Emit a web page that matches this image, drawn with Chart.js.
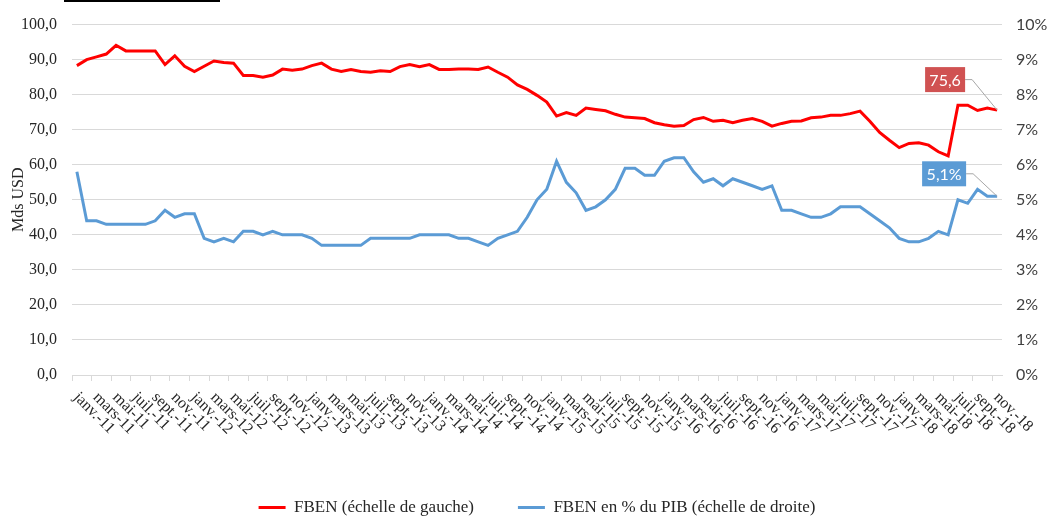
<!DOCTYPE html>
<html><head><meta charset="utf-8">
<script src="https://cdn.jsdelivr.net/npm/chart.js@4/dist/chart.umd.min.js"></script>
<style>
html,body{margin:0;padding:0;background:#fff;}
#wrap{position:relative;width:1048px;height:517px;}
#bar{position:absolute;left:64px;top:0;width:156px;height:2px;background:#000;}
canvas{position:absolute;left:0;top:0;}
</style></head><body>
<div id="wrap"><canvas id="c" width="1048" height="517"></canvas><div id="bar"></div></div>
<script>
const monthNames = ['janv.','févr.','mars','avr.','mai','juin','juil.','août','sept.','oct.','nov.','déc.'];
const years = ['11','12','13','14','15','16','17','18'];
const lastMonthCount = 95; // janv.-11 .. nov.-18
const categories = [];
years.forEach(y => monthNames.forEach(m => categories.push(m + '-' + y)));
categories.length = lastMonthCount;

const fbenMds = [
 88.3, 90.0, 90.8, 91.6, 94.1, 92.5, 92.5, 92.5, 92.5, 88.6, 91.1, 88.1,
 86.6, 88.1, 89.6, 89.2, 89.0, 85.5, 85.5, 85.0, 85.6, 87.3, 87.0, 87.3,
 88.3, 89.0, 87.3, 86.6, 87.2, 86.6, 86.4, 86.8, 86.6, 88.0, 88.6, 88.0,
 88.6, 87.2, 87.2, 87.3, 87.3, 87.2, 87.9, 86.4, 85.0, 82.8, 81.5, 79.8,
 77.9, 73.9, 74.9, 74.1, 76.2, 75.8, 75.4, 74.4, 73.6, 73.4, 73.2, 72.0,
 71.4, 71.0, 71.2, 72.9, 73.5, 72.4, 72.7, 72.0, 72.7, 73.2, 72.4, 71.0,
 71.8, 72.4, 72.5, 73.4, 73.6, 74.1, 74.1, 74.6, 75.3, 72.4, 69.2, 67.0,
 64.9, 66.1, 66.3, 65.6, 63.7, 62.5, 77.0, 77.0, 75.5, 76.2, 75.6
];
const fbenPctPib = [
 5.8, 4.4, 4.4, 4.3, 4.3, 4.3, 4.3, 4.3, 4.4, 4.7, 4.5, 4.6,
 4.6, 3.9, 3.8, 3.9, 3.8, 4.1, 4.1, 4.0, 4.1, 4.0, 4.0, 4.0,
 3.9, 3.7, 3.7, 3.7, 3.7, 3.7, 3.9, 3.9, 3.9, 3.9, 3.9, 4.0,
 4.0, 4.0, 4.0, 3.9, 3.9, 3.8, 3.7, 3.9, 4.0, 4.1, 4.5, 5.0,
 5.3, 6.1, 5.5, 5.2, 4.7, 4.8, 5.0, 5.3, 5.9, 5.9, 5.7, 5.7,
 6.1, 6.2, 6.2, 5.8, 5.5, 5.6, 5.4, 5.6, 5.5, 5.4, 5.3, 5.4,
 4.7, 4.7, 4.6, 4.5, 4.5, 4.6, 4.8, 4.8, 4.8, 4.6, 4.4, 4.2,
 3.9, 3.8, 3.8, 3.9, 4.1, 4.0, 5.0, 4.9, 5.3, 5.1, 5.1
];
const seriesNames = ['FBEN (échelle de gauche)', 'FBEN en % du PIB (échelle de droite)'];
const lastLabels = ['75,6', '5,1%'];

const SERIF = '"Liberation Serif", "Times New Roman", serif';
const SANS = 'Lato, "Open Sans", sans-serif';
const RED = '#ff0000', BLUE = '#5b9bd5', GRID = '#d9d9d9';

const xLabelPlugin = {
  id: 'xLabels',
  afterDraw(chart) {
    const sx = chart.scales.x, ctx = chart.ctx;
    ctx.save();
    ctx.font = '16px ' + SERIF;
    ctx.fillStyle = '#262626';
    ctx.textAlign = 'left';
    ctx.textBaseline = 'middle';
    for (let i = 0; i < categories.length; i += 2) {
      const px = sx.getPixelForValue(i);
      ctx.save();
      ctx.translate(px - 1, sx.top + 20);
      ctx.rotate(Math.PI / 4);
      ctx.fillText(categories[i], 0, 0);
      ctx.restore();
    }
    ctx.restore();
  }
};

const lastLabelPlugin = {
  id: 'lastLabels',
  afterDatasetsDraw(chart) {
    const ctx = chart.ctx;
    const specs = [
      {ds: 0, text: lastLabels[0], bg: '#d05252', dx: -32, dy: -30.5},
      {ds: 1, text: lastLabels[1], bg: BLUE, dx: -31, dy: -22.5}
    ];
    specs.forEach(s => {
      const meta = chart.getDatasetMeta(s.ds);
      const pt = meta.data[meta.data.length - 1];
      ctx.save();
      ctx.font = '16px ' + SANS;
      const w = Math.round(ctx.measureText(s.text).width + 9);
      const h = 25;
      const right = pt.x + s.dx, cy = pt.y + s.dy;
      ctx.strokeStyle = '#a6a6a6';
      ctx.lineWidth = 1;
      ctx.beginPath();
      ctx.moveTo(right, cy);
      ctx.lineTo(right + 7, cy);
      ctx.lineTo(pt.x, pt.y);
      ctx.stroke();
      ctx.fillStyle = s.bg;
      ctx.fillRect(right - w, cy - h / 2, w, h);
      ctx.fillStyle = '#ffffff';
      ctx.textAlign = 'center';
      ctx.textBaseline = 'middle';
      ctx.fillText(s.text, right - w / 2, cy + 1);
      ctx.restore();
    });
  }
};

new Chart(document.getElementById('c'), {
  type: 'line',
  data: {
    labels: categories,
    datasets: [
      {label: seriesNames[0], data: fbenMds, yAxisID: 'y', borderColor: RED, backgroundColor: RED,
       borderWidth: 3, pointRadius: 0, tension: 0},
      {label: seriesNames[1], data: fbenPctPib, yAxisID: 'y1', borderColor: BLUE, backgroundColor: BLUE,
       borderWidth: 3, pointRadius: 0, tension: 0}
    ]
  },
  options: {
    responsive: false,
    animation: false,
    devicePixelRatio: 1,
    layout: {padding: {top: 22, left: 0, right: 0, bottom: 0}},
    plugins: {
      tooltip: {enabled: false},
      legend: {
        position: 'bottom',
        fullSize: false,
        maxHeight: 62,
        labels: {
          font: {family: SERIF, size: 17},
          color: '#262626',
          boxWidth: 27,
          boxHeight: 3,
          padding: 44,
          generateLabels(chart) {
            return Chart.defaults.plugins.legend.labels.generateLabels(chart).map(it => {
              it.lineWidth = 0;
              return it;
            });
          }
        }
      }
    },
    scales: {
      x: {
        type: 'category',
        offset: true,
        grid: {
          display: true, drawOnChartArea: false, drawTicks: true, tickLength: 6, offset: true,
          color: ctx => (ctx.index % 2 === 0 ? GRID : 'rgba(0,0,0,0)')
        },
        border: {display: true, color: GRID},
        ticks: {display: false, autoSkip: false, maxRotation: 0, minRotation: 0},
        afterFit(s) { s.height = 80; }
      },
      y: {
        position: 'left',
        min: 0, max: 100,
        ticks: {stepSize: 10, padding: 15, color: '#262626', font: {family: SERIF, size: 16},
                callback: v => v.toFixed(1).replace('.', ',')},
        grid: {color: GRID, drawTicks: false},
        border: {display: false},
        title: {display: true, text: 'Mds USD', color: '#262626', font: {family: SERIF, size: 16},
                padding: {top: 9, bottom: 0}},
        afterFit(s) { s.width = 72; }
      },
      y1: {
        position: 'right',
        min: 0, max: 10,
        ticks: {stepSize: 1, padding: 14, color: '#404040', font: {family: SANS, size: 16},
                callback: v => v + '%'},
        grid: {display: false, drawTicks: false},
        border: {display: false},
        afterFit(s) { s.width = 46; }
      }
    }
  },
  plugins: [xLabelPlugin, lastLabelPlugin]
});
</script>
</body></html>
